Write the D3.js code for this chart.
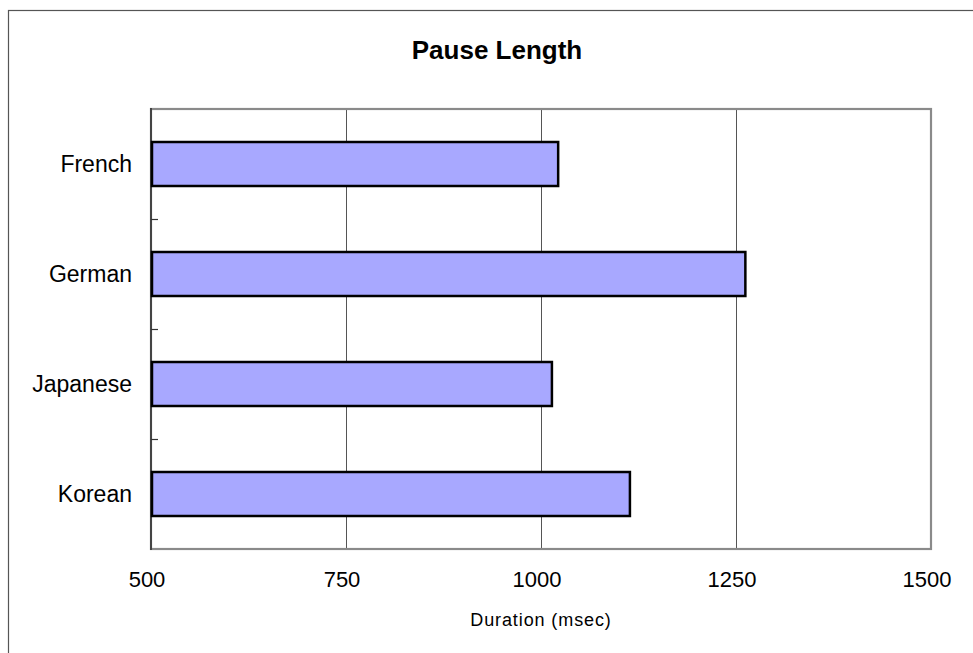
<!DOCTYPE html>
<html><head><meta charset="utf-8">
<script src="https://cdn.jsdelivr.net/npm/d3@7"></script>
<style>body{margin:0;background:#fff}svg{display:block}</style>
</head><body>
<svg id="chart" width="973" height="653"></svg>
<script>
const categories = ["French", "German", "Japanese", "Korean"];
const values = [1022, 1262, 1014, 1114];
const xTicks = [500, 750, 1000, 1250, 1500];
const title = "Pause Length";
const xTitle = "Duration (msec)";

const svg = d3.select("#chart");
const m = {left: 151, top: 109, right: 931, bottom: 549};

// outer chart border
svg.append("rect").attr("x", 8.5).attr("y", 10.5).attr("width", 1000).attr("height", 700)
  .attr("fill", "none").attr("stroke", "#555").attr("stroke-width", 1.2);

const x = d3.scaleLinear().domain([500, 1500]).range([m.left, m.right]);
const y = d3.scaleBand().domain(categories).range([m.top, m.bottom]).paddingInner(0.6).paddingOuter(0.3);
const yb = d3.scaleBand().domain(categories).range([m.top, m.bottom]);

// grid
svg.append("g").selectAll("line").data(xTicks.slice(1, -1)).join("line")
  .attr("x1", d => Math.round(x(d)) + 0.5).attr("x2", d => Math.round(x(d)) + 0.5)
  .attr("y1", m.top).attr("y2", m.bottom).attr("stroke", "#555").attr("stroke-width", 1);

// frame
svg.append("rect").attr("x", m.left).attr("y", m.top).attr("width", m.right - m.left).attr("height", m.bottom - m.top)
  .attr("fill", "none").attr("stroke", "#8a8a8a").attr("stroke-width", 2.2);
svg.append("line").attr("x1", m.left).attr("x2", m.left).attr("y1", m.top - 1).attr("y2", m.bottom + 1)
  .attr("stroke", "#333").attr("stroke-width", 1.6);

// category separator ticks
svg.append("g").selectAll("line").data(categories.slice(1)).join("line")
  .attr("x1", m.left).attr("x2", m.left + 7)
  .attr("y1", d => Math.round(yb(d)) + 0.5).attr("y2", d => Math.round(yb(d)) + 0.5)
  .attr("stroke", "#333").attr("stroke-width", 1.2);

// bars
svg.append("g").selectAll("rect").data(categories).join("rect")
  .attr("x", m.left + 1).attr("y", d => y(d))
  .attr("width", (d, i) => x(values[i]) - m.left - 1).attr("height", y.bandwidth())
  .attr("fill", "#a8a8ff").attr("stroke", "#000").attr("stroke-width", 2.5);

// category labels
svg.append("g").selectAll("text").data(categories).join("text")
  .attr("x", 132).attr("y", d => yb(d) + yb.bandwidth() / 2 + 8)
  .attr("text-anchor", "end").attr("font-family", "Liberation Sans, Arial, sans-serif")
  .attr("font-size", 23).attr("fill", "#000").text(d => d);

// x tick labels
svg.append("g").selectAll("text").data(xTicks).join("text")
  .attr("x", d => x(d) - 4).attr("y", 587)
  .attr("text-anchor", "middle").attr("font-family", "Liberation Sans, Arial, sans-serif")
  .attr("font-size", 22).attr("fill", "#000").text(d => d);

// title
svg.append("text").attr("x", 497).attr("y", 59).attr("text-anchor", "middle")
  .attr("font-family", "Liberation Sans, Arial, sans-serif").attr("font-weight", "bold")
  .attr("font-size", 26).attr("fill", "#000").text(title);

// axis title
svg.append("text").attr("x", 541).attr("y", 626).attr("text-anchor", "middle")
  .attr("font-family", "Liberation Sans, Arial, sans-serif").attr("font-size", 18)
  .attr("letter-spacing", 0.9).attr("fill", "#000").text(xTitle);
</script>
</body></html>
